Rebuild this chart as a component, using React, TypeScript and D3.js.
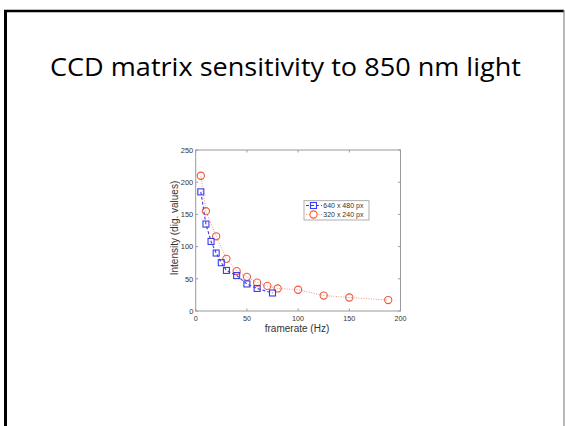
import React from "react";
import * as d3 from "d3";

const TITLE = "CCD matrix sensitivity to 850 nm light";
const X_LABEL = "framerate (Hz)";
const Y_LABEL = "Intensity (dig. values)";
const X_TICKS = [0, 50, 100, 150, 200];
const Y_TICKS = [0, 50, 100, 150, 200, 250];

const SERIES_A_NAME = "640 x 480 px";
const SERIES_A_X = [5, 10, 15, 20, 25, 30, 40, 50, 60, 75];
const SERIES_A_Y = [185, 135, 108, 90, 75, 63, 55, 42, 35, 28];

const SERIES_B_NAME = "320 x 240 px";
const SERIES_B_X = [5, 10, 20, 30, 40, 50, 60, 70, 80, 100, 125, 150, 188];
const SERIES_B_Y = [210, 155, 116, 81, 62, 53, 44, 39, 35, 33, 24, 21, 17];

export default function App() {
  const W = 565, H = 426;
  const x = d3.scaleLinear().domain([0, 200]).range([195.7, 400.5]);
  const y = d3.scaleLinear().domain([0, 250]).range([311, 150]);
  const ptsA = SERIES_A_X.map((v, i) => [x(v), y(SERIES_A_Y[i])] as [number, number]);
  const ptsB = SERIES_B_X.map((v, i) => [x(v), y(SERIES_B_Y[i])] as [number, number]);
  const line = d3.line();
  const blue = "#3b3bf0";
  const red = "#ec5a3e";
  const axisCol = "#9a9a9a";
  const font = "'Liberation Sans', Arial, sans-serif";
  const [x0, x1] = x.range();
  const [y0, y1] = y.range();
  const tl = 2.5;
  return (
    <svg width={W} height={H} style={{ position: "absolute", left: 0, top: 0 }} xmlns="http://www.w3.org/2000/svg">
      <rect x={0} y={0} width={W} height={H} fill="#fff" />
      {/* slide frame */}
      <line x1={4} y1={11} x2={564} y2={11} stroke="#000" strokeWidth={2.5} />
      <line x1={5.5} y1={10} x2={5.5} y2={H} stroke="#000" strokeWidth={3} />
      <line x1={564} y1={10} x2={564} y2={H} stroke="#888" strokeWidth={1.2} />
      <text x={285.5} y={76} textAnchor="middle" fontFamily="'Open Sans', Lato, sans-serif" fontSize={26} textLength={471} lengthAdjust="spacingAndGlyphs" fill="#000" style={{ fontVariantLigatures: "none" }}>{TITLE}</text>

      {/* axes box */}
      <rect x={x0} y={y1} width={x1 - x0} height={y0 - y1} fill="#fff" stroke={axisCol} strokeWidth={1} />
      {X_TICKS.map((t) => (
        <g key={"xt" + t}>
          <line x1={x(t)} x2={x(t)} y1={y0} y2={y0 - tl} stroke={axisCol} />
          <line x1={x(t)} x2={x(t)} y1={y1} y2={y1 + tl} stroke={axisCol} />
          <text x={x(t)} y={321} textAnchor="middle" fontFamily={font} fontSize={7.2} fill="#333">{t}</text>
        </g>
      ))}
      {Y_TICKS.map((t) => (
        <g key={"yt" + t}>
          <line x1={x0} x2={x0 + tl} y1={y(t)} y2={y(t)} stroke={axisCol} />
          <line x1={x1} x2={x1 - tl} y1={y(t)} y2={y(t)} stroke={axisCol} />
          <text x={193.3} y={y(t) + 2.7} textAnchor="end" fontFamily={font} fontSize={7.5} fill="#333">{t}</text>
        </g>
      ))}
      <text x={297} y={332} textAnchor="middle" fontFamily={font} fontSize={10} fill="#333">{X_LABEL}</text>
      <text transform={`translate(177.5,228) rotate(-90)`} textAnchor="middle" fontFamily={font} fontSize={10} fill="#333">{Y_LABEL}</text>

      {/* series B (red dotted, circles) */}
      <path d={line(ptsB) || ""} fill="none" stroke="#f2907c" strokeWidth={1} strokeDasharray="1,1.5" />
      {ptsB.map((p, i) => (
        <circle key={"b" + i} cx={p[0]} cy={p[1]} r={3.6} fill="none" stroke={red} strokeWidth={1.1} />
      ))}
      {/* series A (blue dashed, squares) */}
      <path d={line(ptsA) || ""} fill="none" stroke={blue} strokeWidth={1.1} strokeDasharray="3,2" />
      {ptsA.map((p, i) => (
        <rect key={"a" + i} x={p[0] - 3} y={p[1] - 3} width={6} height={6} fill="none" stroke={blue} strokeWidth={1.1} />
      ))}

      {/* legend */}
      <rect x={304} y={200.7} width={65} height={19.3} fill="#fff" stroke={axisCol} strokeWidth={0.8} />
      <line x1={306} x2={322} y1={205.5} y2={205.5} stroke={blue} strokeWidth={1.1} strokeDasharray="3,2" />
      <rect x={310.5} y={202.5} width={6} height={6} fill="none" stroke={blue} strokeWidth={1.1} />
      <text x={323.3} y={208} fontFamily={font} fontSize={7} fill="#333">{SERIES_A_NAME}</text>
      <line x1={306} x2={322} y1={214.5} y2={214.5} stroke="#f2907c" strokeWidth={1} strokeDasharray="1,1.5" />
      <circle cx={313.5} cy={214.5} r={3.6} fill="#fff" stroke={red} strokeWidth={1.1} />
      <text x={323.3} y={217} fontFamily={font} fontSize={7} fill="#333">{SERIES_B_NAME}</text>
    </svg>
  );
}
